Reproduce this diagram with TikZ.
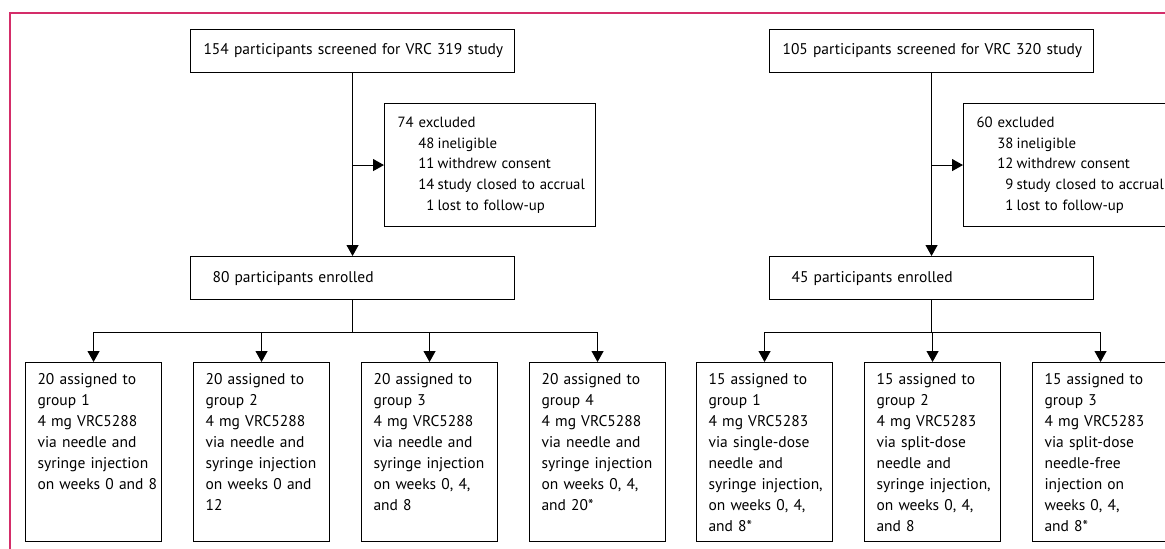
\documentclass[tikz,border=0pt]{standalone}
\usepackage{fontspec}
\setmainfont{PT Sans}
\usetikzlibrary{arrows.meta,calc}
\definecolor{lancetred}{RGB}{212,45,105}
\hyphenpenalty=10000
\exhyphenpenalty=10000
\newcommand{\gw}{136}
\newcommand{\gs}{168}
\tikzset{
  flowbox/.style={draw,line width=1.1pt,inner sep=0pt,anchor=north west,
    font=\fontsize{15.5}{21}\selectfont,align=left},
  screenbox/.style={flowbox,minimum height=43pt,text width=298pt,inner xsep=13pt},
  enrolbox/.style={flowbox,minimum height=43pt,text width=280pt,inner xsep=22pt},
  exclbox/.style={flowbox,minimum height=123pt,text width=185pt,inner xsep=13pt,
    font=\fontsize{14.8}{20.7}\selectfont},
  groupbox/.style={flowbox,text width=112pt,inner xsep=12pt,inner ysep=10pt,
    text height=12pt,text depth=147pt},
  arr/.style={-{Triangle[width=12pt,length=11pt]},line width=1.1pt},
}
\newcommand{\ex}[2]{\mbox{\makebox[37pt][r]{#1}\hspace{3pt}#2}}

\begin{document}
\begin{tikzpicture}[x=1pt,y=-1pt]
\clip (0,0) rectangle (1165,549);
\coordinate (o) at (0,0);
\draw[lancetred,line width=1.5pt] (10,549) -- (10,13) -- (1165,13);

% VRC 319
\node[screenbox] (s319) at (190,29) {\mbox{154 participants screened for VRC 319 study}};
\node[exclbox] (x319) at (384,103) {74 excluded\\
  \ex{48}{ineligible}\\ \ex{11}{withdrew consent}\\
  \ex{14}{study closed to accrual}\\ \ex{1}{lost to follow-up}};
\node[enrolbox] (e319) at (190,256) {80 participants enrolled};
\path (o) ++(25,362) coordinate (c1);
\node[groupbox] (a1) at (c1) {20 assigned to\\ group 1\\ 4 mg VRC5288\\
  via needle and\\ \mbox{syringe injection}\\ \mbox{on weeks 0 and 8}};
\node[groupbox] (a2) at ($(c1)+(\gs,0)$) {20 assigned to\\ group 2\\ 4 mg VRC5288\\
  via needle and\\ \mbox{syringe injection}\\ on weeks 0 and\\ 12};
\node[groupbox] (a3) at ($(c1)+(2*\gs,0)$) {20 assigned to\\ group 3\\ 4 mg VRC5288\\
  via needle and\\ \mbox{syringe injection}\\ on weeks 0, 4,\\ and 8};
\node[groupbox] (a4) at ($(c1)+(3*\gs,0)$) {20 assigned to\\ group 4\\ 4 mg VRC5288\\
  via needle and\\ \mbox{syringe injection}\\ on weeks 0, 4,\\ and 20*};

% VRC 320
\node[screenbox] (s320) at (769,29) {\mbox{105 participants screened for VRC 320 study}};
\node[exclbox] (x320) at (963,103) {60 excluded\\
  \ex{38}{ineligible}\\ \ex{12}{withdrew consent}\\
  \ex{9}{study closed to accrual}\\ \ex{1}{lost to follow-up}};
\node[enrolbox] (e320) at (769,256) {45 participants enrolled};
\path (o) ++(696,362) coordinate (d1);
\node[groupbox] (b1) at (d1) {15 assigned to\\ group 1\\ 4 mg VRC5283\\
  via single-dose\\ needle and\\ \mbox{syringe injection,}\\ on weeks 0, 4,\\ and 8*};
\node[groupbox] (b2) at ($(d1)+(\gs,0)$) {15 assigned to\\ group 2\\ 4 mg VRC5283\\
  via split-dose\\ needle and\\ \mbox{syringe injection,}\\ on weeks 0, 4,\\ and 8};
\node[groupbox] (b3) at ($(d1)+(2*\gs,0)$) {15 assigned to\\ group 3\\ 4 mg VRC5283\\
  via split-dose\\ needle-free\\ injection on\\ weeks 0, 4,\\ and 8*};

% connectors
\draw[arr] (s319.south) -- (e319.north);
\draw[arr] (s319.south |- x319.west) -- (x319.west);
\draw[line width=1.1pt] (e319.south) -- ++(0,32) coordinate (t319);
\draw[line width=1.1pt] (a1.north |- t319) -- (a4.north |- t319);
\foreach \g in {a1,a2,a3,a4}
  \draw[arr] (\g.north |- t319) -- (\g.north);

\draw[arr] (s320.south) -- (e320.north);
\draw[arr] (s320.south |- x320.west) -- (x320.west);
\draw[line width=1.1pt] (e320.south) -- ++(0,32) coordinate (t320);
\draw[line width=1.1pt] (b1.north |- t320) -- (b3.north |- t320);
\foreach \g in {b1,b2,b3}
  \draw[arr] (\g.north |- t320) -- (\g.north);
\end{tikzpicture}
\end{document}
